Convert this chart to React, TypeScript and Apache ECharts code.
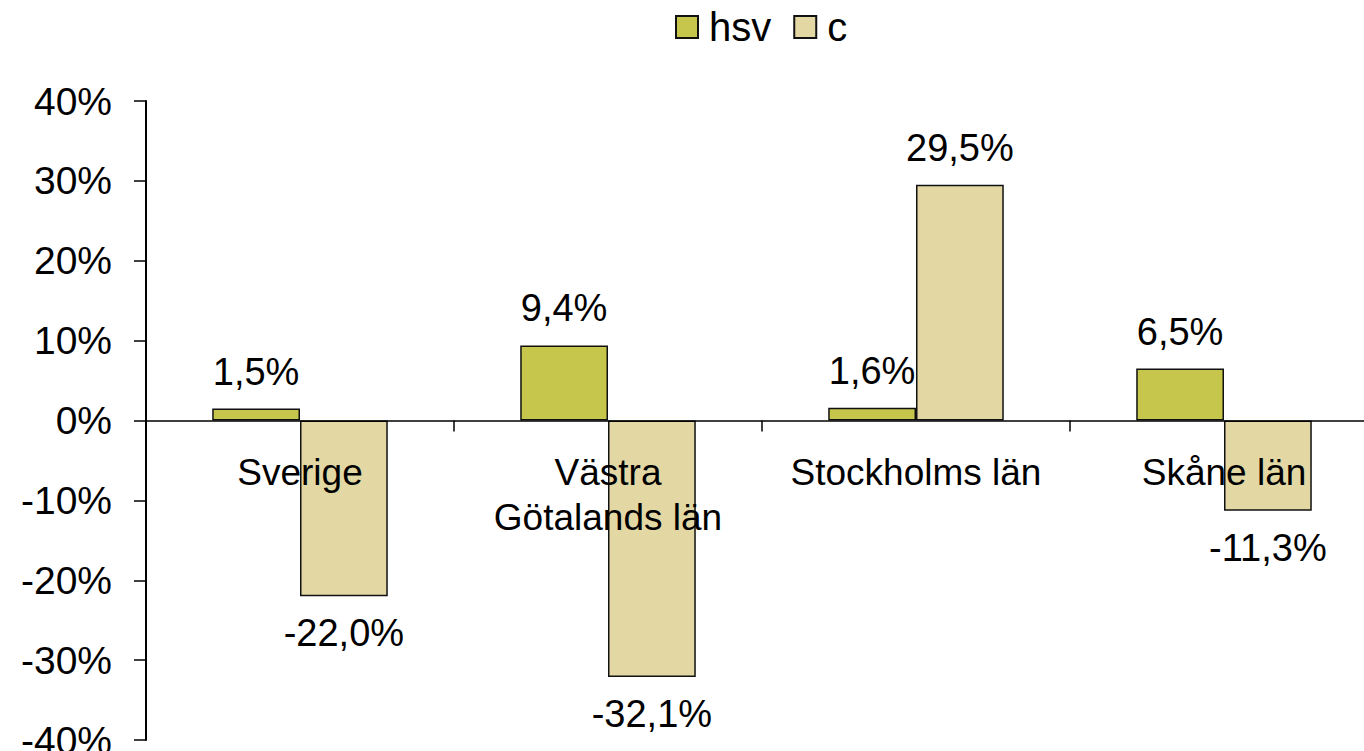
import React, { useEffect, useRef } from "react";
import * as echarts from "echarts";

const categories = ["Sverige", "Västra\nGötalands län", "Stockholms län", "Skåne län"];
const hsvValues = [1.5, 9.4, 1.6, 6.5];
const cValues = [-22.0, -32.1, 29.5, -11.3];
const yTicks = { min: -40, max: 40, interval: 10 };

const FONT = "'Liberation Sans', Arial, sans-serif";
const fmt = (v: number) => v.toFixed(1).replace(".", ",") + "%";

export default function App() {
  const ref = useRef<HTMLDivElement>(null);
  useEffect(() => {
    document.body.style.margin = "0";
    const chart = echarts.init(ref.current!, null, { renderer: "svg" });
    const H = 751;
    const gridTop = 101;
    const gridBottom = 11;
    const plotH = H - gridTop - gridBottom;
    // offset of the label axis: move it from the grid bottom up to the zero line
    const zeroOffset = -(plotH * (0 - yTicks.min)) / (yTicks.max - yTicks.min);
    const labelCfg = {
      show: true,
      position: "outside" as any,
      distance: 18,
      color: "#000",
      fontSize: 38,
      fontFamily: FONT,
      formatter: (p: any) => fmt(p.value),
    };
    chart.setOption({
      animation: false,
      backgroundColor: "#fff",
      textStyle: { fontFamily: FONT },
      legend: {
        top: 2,
        left: 670,
        itemWidth: 22,
        itemHeight: 22,
        itemGap: 22,
        icon: "rect",
        textStyle: { fontSize: 40, color: "#000", fontFamily: FONT, padding: [0, 0, 0, 6] },
        data: ["hsv", "c"],
      },
      grid: {
        left: 146,
        right: -14,
        top: gridTop,
        bottom: gridBottom,
        containLabel: false,
        outerBoundsMode: "none",
      },
      xAxis: [
        {
          type: "category",
          data: categories,
          axisLine: { onZero: true, lineStyle: { color: "#000", width: 1.5 } },
          axisTick: { show: true, length: 11, lineStyle: { color: "#000", width: 1.5 } },
          axisLabel: { show: false },
          z: 10,
        },
        {
          type: "category",
          data: categories,
          position: "bottom",
          offset: zeroOffset,
          axisLine: { show: false, onZero: false },
          axisTick: { show: false },
          axisLabel: {
            interval: 0,
            margin: 29,
            fontSize: 37,
            lineHeight: 45,
            color: "#000",
            fontFamily: FONT,
          },
          z: 10,
        },
      ],
      yAxis: {
        type: "value",
        min: yTicks.min,
        max: yTicks.max,
        interval: yTicks.interval,
        splitLine: { show: false },
        axisLine: { show: true, lineStyle: { color: "#000", width: 2 } },
        axisTick: { show: true, length: 12, lineStyle: { color: "#000", width: 1.5 } },
        axisLabel: {
          margin: 34,
          fontSize: 39,
          color: "#000",
          fontFamily: FONT,
          formatter: "{value}%",
        },
      },
      series: [
        {
          name: "hsv",
          type: "bar",
          data: hsvValues,
          barGap: "0%",
          barCategoryGap: "43%",
          itemStyle: { color: "#C5C64B", borderColor: "#111", borderWidth: 1.5 },
          label: labelCfg,
        },
        {
          name: "c",
          type: "bar",
          data: cValues,
          barGap: "0%",
          barCategoryGap: "43%",
          itemStyle: { color: "#E3D8A4", borderColor: "#111", borderWidth: 1.5 },
          label: labelCfg,
        },
      ],
    });
    return () => chart.dispose();
  }, []);
  return <div ref={ref} style={{ width: 1364, height: 751 }} />;
}
